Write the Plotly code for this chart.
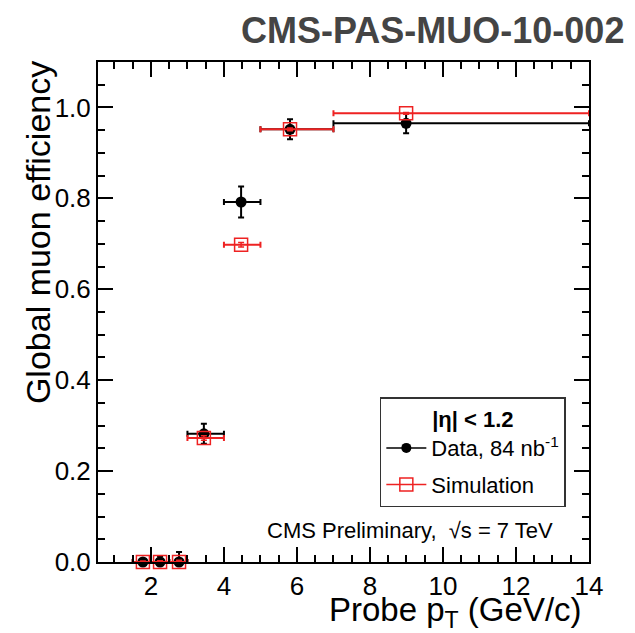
import plotly.graph_objects as go

# --- data ---
bin_lo = [1.5, 2.0, 2.5, 3.0, 4.0, 5.0, 7.0]
bin_hi = [2.0, 2.5, 3.0, 4.0, 5.0, 7.0, 14.0]
pt_mean = [1.78, 2.25, 2.77, 3.45, 4.47, 5.81, 8.99]

data_eff = [0.0, 0.0, 0.0, 0.282, 0.792, 0.952, 0.965]
data_err = [0.004, 0.012, 0.022, 0.022, 0.034, 0.022, 0.022]

sim_eff = [0.0, 0.0, 0.0, 0.273, 0.698, 0.952, 0.987]
sim_err = [0.002, 0.003, 0.004, 0.005, 0.005, 0.003, 0.002]

x_ticks = [2, 4, 6, 8, 10, 12, 14]
y_ticks = [0.0, 0.2, 0.4, 0.6, 0.8, 1.0]

FONT = "Liberation Sans, Arial, Helvetica, sans-serif"
RED = "#ee2222"

ex_plus = [h - x for h, x in zip(bin_hi, pt_mean)]
ex_minus = [x - l for l, x in zip(bin_lo, pt_mean)]

fig = go.Figure()

fig.add_trace(go.Scatter(
    x=pt_mean, y=data_eff, mode="markers", showlegend=False,
    marker=dict(symbol="circle", size=11, color="black"),
    error_x=dict(type="data", array=ex_plus, arrayminus=ex_minus,
                 color="black", thickness=2, width=3),
    error_y=dict(type="data", array=data_err, color="black", thickness=2, width=3),
    cliponaxis=False,
))

fig.add_trace(go.Scatter(
    x=pt_mean, y=sim_eff, mode="markers", showlegend=False,
    marker=dict(symbol="square-open", size=13, color=RED,
                line=dict(width=1.5, color=RED)),
    error_x=dict(type="data", array=ex_plus, arrayminus=ex_minus,
                 color=RED, thickness=2, width=3),
    error_y=dict(type="data", array=sim_err, color=RED, thickness=1.5, width=3),
    cliponaxis=False,
))

# legend entries
fig.add_trace(go.Scatter(
    x=[None], y=[None], mode="lines+markers", name="Data, 84 nb<sup>-1</sup>",
    legendgroup="data",
    marker=dict(symbol="circle", size=10, color="black"),
    line=dict(color="black", width=1.5),
))
fig.add_trace(go.Scatter(
    x=[None], y=[None], mode="lines+markers", name="Simulation",
    legendgroup="sim",
    marker=dict(symbol="square-open", size=13, color=RED,
                line=dict(width=1.5, color=RED)),
    line=dict(color=RED, width=1.5),
))

axis_common = dict(
    showline=True, linecolor="black", linewidth=2, mirror="ticks",
    ticks="inside", ticklen=15, tickwidth=1.5, tickcolor="black",
    showgrid=False, zeroline=False,
    tickfont=dict(family=FONT, size=26, color="black"),
)

fig.update_xaxes(
    range=[0.55, 14], tickvals=x_ticks, ticktext=[str(v) for v in x_ticks],
    minor=dict(ticks="inside", ticklen=7, tickwidth=1.5, tickcolor="black", dtick=0.5, tick0=0),
    **axis_common,
)
fig.update_yaxes(
    range=[0, 1.1], tickvals=y_ticks, ticktext=[f"{v:.1f}" for v in y_ticks],
    minor=dict(ticks="inside", ticklen=7, tickwidth=1.5, tickcolor="black", dtick=0.05, tick0=0),
    **axis_common,
)

fig.update_layout(
    width=635, height=633,
    margin=dict(l=90, r=54, t=54, b=79),
    plot_bgcolor="white", paper_bgcolor="white",
    font=dict(family=FONT, color="black"),
    legend=dict(
        x=0.574, y=0.33, xanchor="left", yanchor="top",
        bgcolor="white", bordercolor="#333333", borderwidth=1.5,
        font=dict(family=FONT, size=22, color="black"),
        title=dict(text="<b>|η| &lt; 1.2</b>", side="top center",
                   font=dict(family=FONT, size=22, color="black")),
        itemwidth=40, tracegroupgap=5,
    ),
    annotations=[
        dict(text="<b>CMS-PAS-MUO-10-002</b>", xref="paper", yref="paper",
             x=1.073, y=1.063, xanchor="right", yanchor="middle", showarrow=False,
             borderpad=0, font=dict(family=FONT, size=36, color="#444444")),
        dict(text="Probe p<sub>T</sub> (GeV/c)", xref="paper", yref="paper",
             x=0.988, y=-0.056, xanchor="right", yanchor="top", showarrow=False,
             borderpad=0, font=dict(family=FONT, size=33, color="black")),
        dict(text="Global muon efficiency", xref="paper", yref="paper",
             x=-0.122, y=1.005, xanchor="center", yanchor="top", textangle=-90,
             showarrow=False, font=dict(family=FONT, size=34, color="black")),
        dict(text="CMS Preliminary,  √s = 7 TeV", xref="paper", yref="paper",
             x=0.931, y=0.064, xanchor="right", yanchor="middle", showarrow=False,
             font=dict(family=FONT, size=22, color="black")),
    ],
)

fig.write_html("out.html")
